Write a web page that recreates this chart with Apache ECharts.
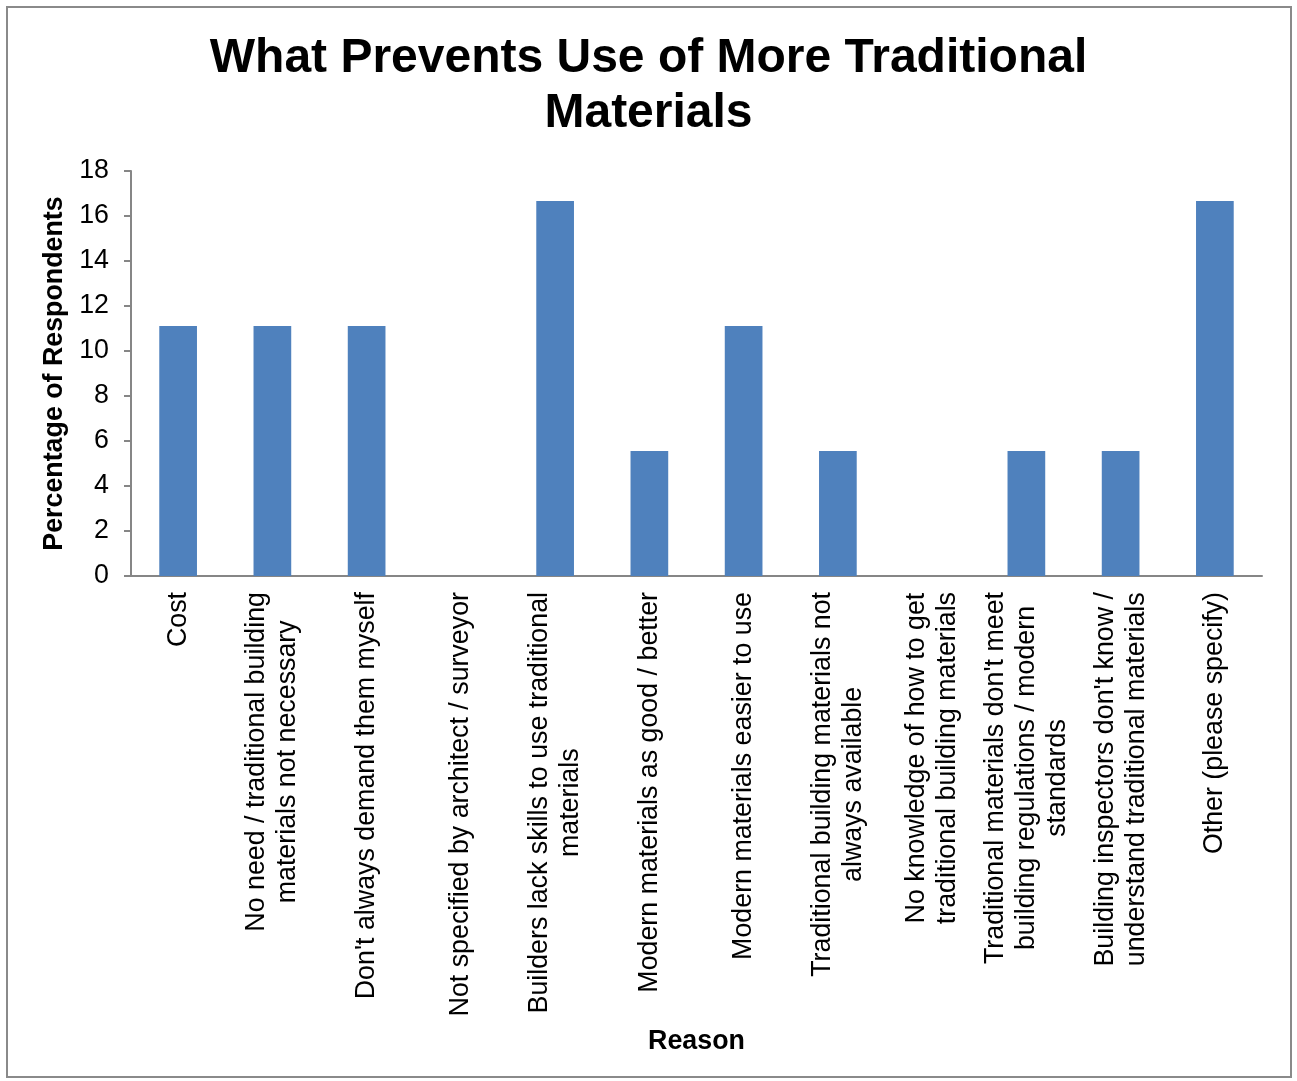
<!DOCTYPE html>
<html>
<head>
<meta charset="utf-8">
<script src="https://cdn.jsdelivr.net/npm/echarts@6/dist/echarts.min.js"></script>
<style>
html,body{margin:0;padding:0;background:#fff;}
#chart{width:1297px;height:1081px;}
</style>
</head>
<body>
<div id="chart"></div>
<script>
const titleText = "What Prevents Use of More Traditional\nMaterials";
const categories = [
  "Cost",
  "No need / traditional building\nmaterials not necessary",
  "Don't always demand them myself",
  "Not specified by architect / surveyor",
  "Builders lack skills to use traditional\nmaterials",
  "Modern materials as good / better",
  "Modern materials easier to use",
  "Traditional building materials not\nalways available",
  "No knowledge of how to get\ntraditional building materials",
  "Traditional materials don't meet\nbuilding regulations / modern\nstandards",
  "Building inspectors don't know /\nunderstand traditional materials",
  "Other (please specify)"
];
const percentages = [11.11, 11.11, 11.11, 0, 16.67, 5.56, 11.11, 5.56, 0, 5.56, 5.56, 16.67];
const yAxisName = "Percentage of Respondents";
const xAxisName = "Reason";

const FONT = "'Liberation Sans', Arial, sans-serif";
const FS = 26.8;
const chart = echarts.init(document.getElementById('chart'), null, {renderer: 'canvas'});
chart.setOption({
  backgroundColor: '#ffffff',
  animation: false,
  graphic: [{
    type: 'rect',
    shape: {x: 7, y: 7, width: 1284, height: 1070},
    style: {fill: 'none', stroke: '#8a8a8a', lineWidth: 2},
    silent: true
  }],
  title: {
    text: titleText,
    left: 'center',
    top: 26,
    textStyle: {fontFamily: FONT, fontSize: 48, fontWeight: 'bold', color: '#000', lineHeight: 55}
  },
  grid: {left: 131, right: 35, top: 171, bottom: 505, containLabel: false},
  xAxis: {
    type: 'category',
    data: categories,
    name: xAxisName,
    nameLocation: 'middle',
    nameGap: 452,
    nameTextStyle: {fontFamily: FONT, fontSize: FS, fontWeight: 'bold', color: '#000'},
    axisLine: {lineStyle: {color: '#868686', width: 2}},
    axisTick: {show: false},
    axisLabel: {
      interval: 0,
      rotate: 90,
      margin: 16,
      color: '#000',
      fontFamily: FONT,
      fontSize: FS,
      lineHeight: 31,
      formatter: function (v) {
        return v.split('\n').map(function (l) { return '{a|' + l + '}'; }).join('\n');
      },
      rich: {a: {align: 'center', fontFamily: FONT, fontSize: FS, lineHeight: 31, color: '#000'}}
    }
  },
  yAxis: {
    type: 'value',
    min: 0,
    max: 18,
    interval: 2,
    name: yAxisName,
    nameLocation: 'middle',
    nameGap: 61,
    nameRotate: 90,
    nameTextStyle: {fontFamily: FONT, fontSize: FS, fontWeight: 'bold', color: '#000'},
    axisLine: {show: true, lineStyle: {color: '#868686', width: 2}},
    axisTick: {show: true, length: 7, inside: false, lineStyle: {color: '#868686', width: 2}},
    splitLine: {show: false},
    axisLabel: {margin: 22, color: '#000', fontFamily: FONT, fontSize: FS}
  },
  series: [{
    type: 'bar',
    data: percentages,
    barWidth: '40%',
    itemStyle: {color: '#4F81BD'}
  }]
});
</script>
</body>
</html>
